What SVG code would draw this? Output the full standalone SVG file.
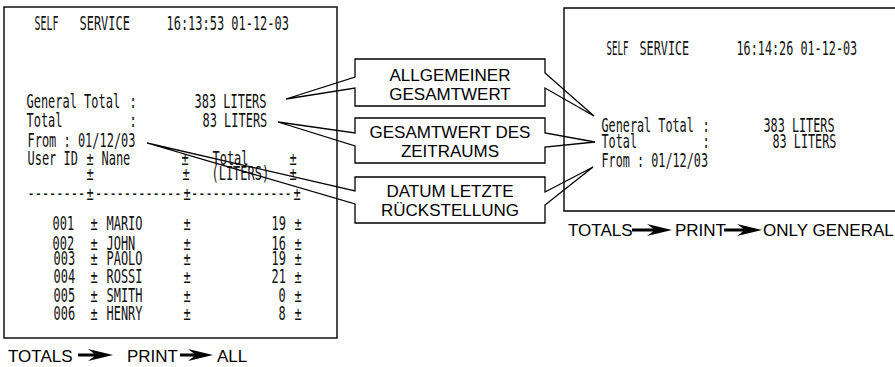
<svg xmlns="http://www.w3.org/2000/svg" width="895" height="367" viewBox="0 0 895 367">
<style>
.box{fill:none;stroke:#000;stroke-width:1.4}
.co{fill:none;stroke:#000;stroke-width:1.3;stroke-linejoin:miter}
.rc{font-family:"DejaVu Sans Mono","Liberation Mono",monospace;font-size:19.5px;fill:#111}
.pm{text-anchor:middle}
.lb{font-family:"Liberation Sans",Arial,Helvetica,sans-serif;font-size:17px;fill:#000;text-anchor:middle}
.bt{font-family:"Liberation Sans",Arial,Helvetica,sans-serif;font-size:17px;fill:#000}
.ar{fill:#000;stroke:none}
</style>
<rect width="895" height="367" fill="#fff"/>

<g id="receipt-all">
<rect class="box" x="4" y="7" width="333" height="331"/>
<text class="rc" x="34.5" y="30" textLength="24" lengthAdjust="spacingAndGlyphs">SELF</text>
<text class="rc" x="79.5" y="30" textLength="50.4" lengthAdjust="spacingAndGlyphs">SERVICE</text>
<text class="rc" x="166.5" y="30" textLength="122.4" lengthAdjust="spacingAndGlyphs">16:13:53 01-12-03</text>
<text class="rc" x="26.5" y="108" textLength="93.6" lengthAdjust="spacingAndGlyphs">General Total</text>
<text class="rc pm" x="133" y="108" textLength="7.2" lengthAdjust="spacingAndGlyphs">:</text>
<text class="rc" x="194.5" y="108" textLength="72" lengthAdjust="spacingAndGlyphs">383 LITERS</text>
<text class="rc" x="26.5" y="127" textLength="36" lengthAdjust="spacingAndGlyphs">Total</text>
<text class="rc pm" x="133" y="127" textLength="7.2" lengthAdjust="spacingAndGlyphs">:</text>
<text class="rc" x="202.5" y="127" textLength="64.8" lengthAdjust="spacingAndGlyphs">83 LITERS</text>
<text class="rc" x="27.5" y="147" textLength="108" lengthAdjust="spacingAndGlyphs">From : 01/12/03</text>
<text class="rc" x="27.5" y="165" textLength="50.4" lengthAdjust="spacingAndGlyphs">User ID</text>
<text class="rc pm" x="90" y="165" textLength="7.2" lengthAdjust="spacingAndGlyphs">±</text>
<text class="rc" x="101.5" y="165" textLength="28.8" lengthAdjust="spacingAndGlyphs">Nane</text>
<text class="rc pm" x="185" y="165" textLength="7.2" lengthAdjust="spacingAndGlyphs">±</text>
<text class="rc" x="212.5" y="165" textLength="36" lengthAdjust="spacingAndGlyphs">Total</text>
<text class="rc pm" x="293" y="165" textLength="7.2" lengthAdjust="spacingAndGlyphs">±</text>
<text class="rc pm" x="90" y="180" textLength="7.2" lengthAdjust="spacingAndGlyphs">±</text>
<text class="rc pm" x="186" y="180" textLength="7.2" lengthAdjust="spacingAndGlyphs">±</text>
<text class="rc" x="211.5" y="180" textLength="57.6" lengthAdjust="spacingAndGlyphs">(LITERS)</text>
<text class="rc pm" x="293" y="180" textLength="7.2" lengthAdjust="spacingAndGlyphs">±</text>
<text class="rc" x="27.5" y="200" textLength="57.6" lengthAdjust="spacingAndGlyphs">--------</text>
<text class="rc pm" x="90" y="200" textLength="7.2" lengthAdjust="spacingAndGlyphs">±</text>
<text class="rc" x="95" y="200" textLength="86.4" lengthAdjust="spacingAndGlyphs">------------</text>
<text class="rc pm" x="187" y="200" textLength="7.2" lengthAdjust="spacingAndGlyphs">±</text>
<text class="rc" x="191" y="200" textLength="100.8" lengthAdjust="spacingAndGlyphs">--------------</text>
<text class="rc pm" x="297" y="200" textLength="7.2" lengthAdjust="spacingAndGlyphs">±</text>

<text class="rc" x="52.5" y="230" textLength="21.6" lengthAdjust="spacingAndGlyphs">001</text>
<text class="rc pm" x="94" y="230" textLength="7.2" lengthAdjust="spacingAndGlyphs">±</text>
<text class="rc" x="106.5" y="230" textLength="36" lengthAdjust="spacingAndGlyphs">MARIO</text>
<text class="rc pm" x="187" y="230" textLength="7.2" lengthAdjust="spacingAndGlyphs">±</text>
<text class="rc" x="271.5" y="230" textLength="14.4" lengthAdjust="spacingAndGlyphs">19</text>
<text class="rc pm" x="298" y="230" textLength="7.2" lengthAdjust="spacingAndGlyphs">±</text>

<text class="rc" x="52.5" y="250" textLength="21.6" lengthAdjust="spacingAndGlyphs">002</text>
<text class="rc pm" x="94" y="250" textLength="7.2" lengthAdjust="spacingAndGlyphs">±</text>
<text class="rc" x="106.5" y="250" textLength="28.8" lengthAdjust="spacingAndGlyphs">JOHN</text>
<text class="rc pm" x="187" y="250" textLength="7.2" lengthAdjust="spacingAndGlyphs">±</text>
<text class="rc" x="271.5" y="250" textLength="14.4" lengthAdjust="spacingAndGlyphs">16</text>
<text class="rc pm" x="298" y="250" textLength="7.2" lengthAdjust="spacingAndGlyphs">±</text>

<text class="rc" x="53.5" y="265" textLength="21.6" lengthAdjust="spacingAndGlyphs">003</text>
<text class="rc pm" x="94" y="265" textLength="7.2" lengthAdjust="spacingAndGlyphs">±</text>
<text class="rc" x="106.5" y="265" textLength="36" lengthAdjust="spacingAndGlyphs">PAOLO</text>
<text class="rc pm" x="187" y="265" textLength="7.2" lengthAdjust="spacingAndGlyphs">±</text>
<text class="rc" x="271.5" y="265" textLength="14.4" lengthAdjust="spacingAndGlyphs">19</text>
<text class="rc pm" x="298" y="265" textLength="7.2" lengthAdjust="spacingAndGlyphs">±</text>

<text class="rc" x="53.5" y="283" textLength="21.6" lengthAdjust="spacingAndGlyphs">004</text>
<text class="rc pm" x="94" y="283" textLength="7.2" lengthAdjust="spacingAndGlyphs">±</text>
<text class="rc" x="106.5" y="283" textLength="36" lengthAdjust="spacingAndGlyphs">ROSSI</text>
<text class="rc pm" x="187" y="283" textLength="7.2" lengthAdjust="spacingAndGlyphs">±</text>
<text class="rc" x="271.5" y="283" textLength="14.4" lengthAdjust="spacingAndGlyphs">21</text>
<text class="rc pm" x="298" y="283" textLength="7.2" lengthAdjust="spacingAndGlyphs">±</text>

<text class="rc" x="53.5" y="302" textLength="21.6" lengthAdjust="spacingAndGlyphs">005</text>
<text class="rc pm" x="94" y="302" textLength="7.2" lengthAdjust="spacingAndGlyphs">±</text>
<text class="rc" x="106.5" y="302" textLength="36" lengthAdjust="spacingAndGlyphs">SMITH</text>
<text class="rc pm" x="187" y="302" textLength="7.2" lengthAdjust="spacingAndGlyphs">±</text>
<text class="rc" x="278.5" y="302" textLength="7.2" lengthAdjust="spacingAndGlyphs">0</text>
<text class="rc pm" x="298" y="302" textLength="7.2" lengthAdjust="spacingAndGlyphs">±</text>

<text class="rc" x="53.5" y="320" textLength="21.6" lengthAdjust="spacingAndGlyphs">006</text>
<text class="rc pm" x="94" y="320" textLength="7.2" lengthAdjust="spacingAndGlyphs">±</text>
<text class="rc" x="106.5" y="320" textLength="36" lengthAdjust="spacingAndGlyphs">HENRY</text>
<text class="rc pm" x="187" y="320" textLength="7.2" lengthAdjust="spacingAndGlyphs">±</text>
<text class="rc" x="278.5" y="320" textLength="7.2" lengthAdjust="spacingAndGlyphs">8</text>
<text class="rc pm" x="298" y="320" textLength="7.2" lengthAdjust="spacingAndGlyphs">±</text>
</g>

<g id="receipt-general">
<path class="box" d="M900 8 H564 V211 H900"/>
<text class="rc" x="606.5" y="55" textLength="22" lengthAdjust="spacingAndGlyphs">SELF</text>
<text class="rc" x="639.5" y="55" textLength="49.7" lengthAdjust="spacingAndGlyphs">SERVICE</text>
<text class="rc" x="736.5" y="55" textLength="120.7" lengthAdjust="spacingAndGlyphs">16:14:26 01-12-03</text>
<text class="rc" x="601.5" y="132" textLength="92.3" lengthAdjust="spacingAndGlyphs">General Total</text>
<text class="rc pm" x="706" y="132" textLength="7.1" lengthAdjust="spacingAndGlyphs">:</text>
<text class="rc" x="763.5" y="132" textLength="71" lengthAdjust="spacingAndGlyphs">383 LITERS</text>
<text class="rc" x="601.5" y="148" textLength="35.5" lengthAdjust="spacingAndGlyphs">Total</text>
<text class="rc pm" x="706" y="148" textLength="7.1" lengthAdjust="spacingAndGlyphs">:</text>
<text class="rc" x="772.5" y="148" textLength="63.9" lengthAdjust="spacingAndGlyphs">83 LITERS</text>
<text class="rc" x="601.5" y="167" textLength="106.5" lengthAdjust="spacingAndGlyphs">From : 01/12/03</text>
</g>

<g id="callout-general-total">
<path class="co" d="M355 59 H545 V73 L594 116 L545 88 V106 H355 V88 L286 99 L355 77 Z"/>
<text class="lb" x="450" y="81">ALLGEMEINER</text>
<text class="lb" x="450" y="100">GESAMTWERT</text>
</g>

<g id="callout-period-total">
<path class="co" d="M355 118 H545 V133 L595 142 L545 147 V163 H355 V146 L278 122 L355 133 Z"/>
<text class="lb" x="450" y="138">GESAMTWERT DES</text>
<text class="lb" x="450" y="157">ZEITRAUMS</text>
</g>

<g id="callout-reset-date">
<path class="co" d="M355 177 H545 V192 L593 167 L545 205 V223 H355 V204 L147 143 L355 191 Z"/>
<text class="lb" x="450" y="197">DATUM LETZTE</text>
<text class="lb" x="450" y="216">RÜCKSTELLUNG</text>
</g>

<g id="label-all">
<text class="bt" x="8" y="362">TOTALS</text>
<text class="bt" x="127" y="362">PRINT</text>
<text class="bt" x="217" y="362">ALL</text>
</g>

<g id="label-only-general">
<text class="bt" x="568" y="236">TOTALS</text>
<text class="bt" x="675" y="236">PRINT</text>
<text class="bt" x="763" y="236">ONLY GENERAL</text>
</g>

<g id="connectors">
<path class="ar" d="M78 353.4 L94 353.4 L88 349 L113 355 L88 361 L94 356.6 L78 356.6 Z"/>
<path class="ar" d="M180 353.4 L194 353.4 L188 349 L213 355 L188 361 L194 356.6 L180 356.6 Z"/>
<path class="ar" d="M632 228.4 L653 228.4 L647 224 L672 230 L647 236 L653 231.6 L632 231.6 Z"/>
<path class="ar" d="M724 228.4 L743 228.4 L737 224 L762 230 L737 236 L743 231.6 L724 231.6 Z"/>
</g>
</svg>
